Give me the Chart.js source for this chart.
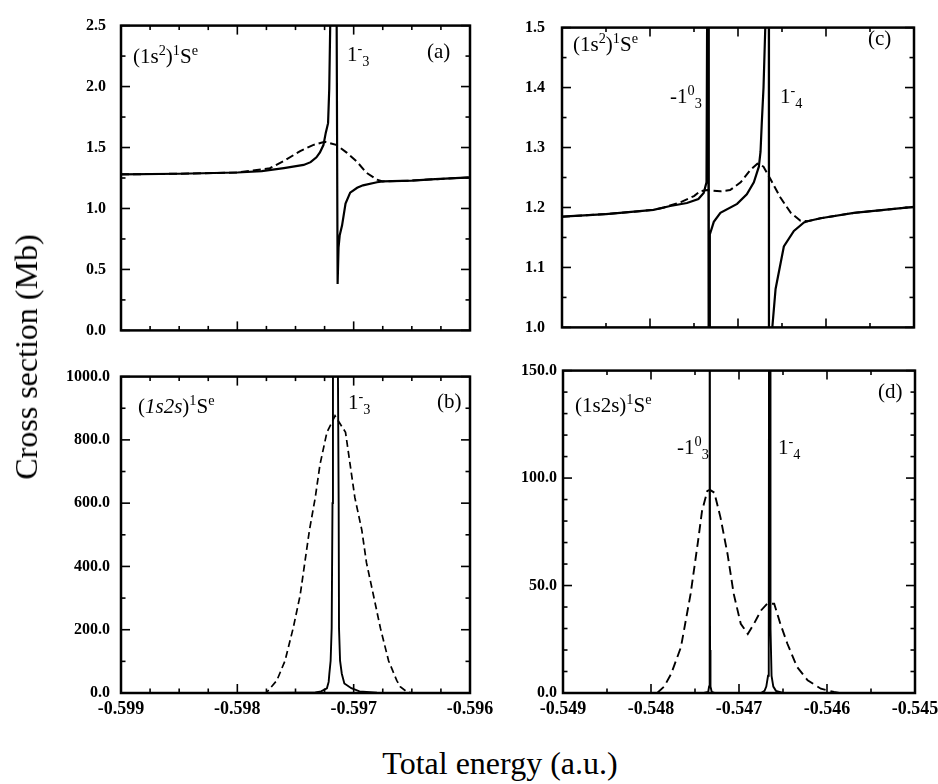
<!DOCTYPE html>
<html><head><meta charset="utf-8">
<script src="https://cdn.jsdelivr.net/npm/chart.js@4.4.0/dist/chart.umd.min.js"></script>
<style>
html,body{margin:0;padding:0;background:#fff;}
#wrap{position:relative;width:938px;height:784px;overflow:hidden;background:#fff;font-family:'Liberation Serif','Times New Roman',serif;color:#000;}
canvas{position:absolute;}
.lbl{position:absolute;font-family:'Liberation Serif','Times New Roman',serif;font-size:21px;line-height:1;white-space:nowrap;}
.sp{font-size:.68em;position:relative;top:-.55em;line-height:0;}
.sb{font-size:.68em;position:relative;top:.35em;line-height:0;}
.ttl{position:absolute;font-family:'Liberation Serif','Times New Roman',serif;font-size:32px;line-height:1;white-space:nowrap;}
</style></head><body><div id="wrap">
<canvas id="ca"></canvas><canvas id="cb"></canvas><canvas id="cc"></canvas><canvas id="cd"></canvas>
<div class="lbl" style="left:133px;top:46px">(1s<span class="sp">2</span>)<span class="sp">1</span>S<span class="sp">e</span></div>
<div class="lbl" style="left:347px;top:44px">1<span class="sp">-</span><span class="sb">3</span></div>
<div class="lbl" style="left:427px;top:41px">(a)</div>
<div class="lbl" style="left:138px;top:396px">(<i>1s2s</i>)<span class="sp">1</span>S<span class="sp">e</span></div>
<div class="lbl" style="left:348px;top:392px">1<span class="sp">-</span><span class="sb">3</span></div>
<div class="lbl" style="left:437px;top:391px">(b)</div>
<div class="lbl" style="left:573px;top:34px">(1s<span class="sp">2</span>)<span class="sp">1</span>S<span class="sp">e</span></div>
<div class="lbl" style="left:670px;top:86px">-1<span class="sp">0</span><span class="sb">3</span></div>
<div class="lbl" style="left:780px;top:86px">1<span class="sp">-</span><span class="sb">4</span></div>
<div class="lbl" style="left:868px;top:28px">(c)</div>
<div class="lbl" style="left:575px;top:395px">(1s2s)<span class="sp">1</span>S<span class="sp">e</span></div>
<div class="lbl" style="left:677px;top:437px">-1<span class="sp">0</span><span class="sb">3</span></div>
<div class="lbl" style="left:778px;top:437px">1<span class="sp">-</span><span class="sb">4</span></div>
<div class="lbl" style="left:878px;top:381px">(d)</div>
<div class="ttl" id="xt" style="top:747px;left:0;width:1000px;text-align:center">Total energy (a.u.)</div>
<div class="ttl" id="yt" style="left:26px;top:357px;transform:translate(-50%,-50%) rotate(-90deg);">Cross section (Mb)</div>
</div>
<script>
// ---- tick values ----
const abTicksX = [-0.599, -0.598, -0.597, -0.596];
const cdTicksX = [-0.549, -0.548, -0.547, -0.546, -0.545];
const aTicksY = [0.0, 0.5, 1.0, 1.5, 2.0, 2.5];
const bTicksY = [0, 200, 400, 600, 800, 1000];
const cTicksY = [1.0, 1.1, 1.2, 1.3, 1.4, 1.5];
const dTicksY = [0, 50, 100, 150];

// ---- panel (a): (1s^2) 1Se ----
const aSolidE = [-0.5990,-0.5985,-0.5980,-0.59779,-0.5976,-0.59743,-0.59737,-0.59732,-0.59729,-0.59726,-0.59724,-0.59722,-0.59721,-0.59720,-0.59718,-0.59715,-0.597138,-0.59713,-0.59712,-0.59710,-0.59707,-0.59703,-0.59697,-0.59692,-0.59680,-0.59675,-0.59650,-0.59630,-0.59600];
const aSolidY = [1.280,1.285,1.295,1.306,1.331,1.357,1.38,1.42,1.46,1.52,1.62,1.70,1.98,2.60,3.5,3.5,0.38,0.68,0.78,0.86,1.04,1.13,1.17,1.19,1.215,1.222,1.229,1.24,1.255];
const aDashE = [-0.5990,-0.5985,-0.5980,-0.59772,-0.59760,-0.59746,-0.59735,-0.59725,-0.59715,-0.59706,-0.59697,-0.59689,-0.59680,-0.59675,-0.59650,-0.59630,-0.59600];
const aDashY = [1.280,1.285,1.295,1.33,1.39,1.47,1.52,1.547,1.522,1.458,1.382,1.293,1.237,1.222,1.229,1.24,1.255];

// ---- panel (b): (1s2s) 1Se ----
const bSolidE = [-0.5990,-0.5978,-0.59745,-0.59733,-0.59728,-0.59723,-0.597215,-0.597209,-0.597198,-0.597189,-0.597182,-0.597178,-0.597157,-0.597135,-0.597129,-0.597126,-0.597117,-0.597102,-0.59708,-0.59702,-0.59695,-0.59680,-0.5965,-0.5960];
const bSolidY = [0,0,1,2,5,15,35,61,102,205,600,1000,3500,1000,600,205,102,61,30,15,5,1,0,0];
const bDashE = [-0.59778,-0.59775,-0.59766,-0.59759,-0.59752,-0.59746,-0.59742,-0.59738,-0.59733,-0.59729,-0.59723,-0.59716,-0.59707,-0.59703,-0.59699,-0.59693,-0.59689,-0.59683,-0.59677,-0.59670,-0.59663,-0.59660,-0.59654,-0.59649];
const bDashY = [0,1,40,102,205,309,412,515,618,721,824,876,824,721,618,515,412,309,205,102,40,20,3,0];

// ---- panel (c): (1s^2) 1Se ----
const cSolidE = [-0.5490,-0.5485,-0.54834,-0.54796,-0.54777,-0.54758,-0.54745,-0.54739,-0.547358,-0.54735,-0.54734,-0.547332,-0.547325,-0.54732,-0.547275,-0.54720,-0.54701,-0.54690,-0.54682,-0.546763,-0.546744,-0.54673,-0.54671,-0.546686,-0.54666,-0.54665,-0.546648,-0.54662,-0.54661,-0.546573,-0.546479,-0.546365,-0.54625,-0.54621,-0.546062,-0.545683,-0.5450];
const cSolidY = [1.1846,1.189,1.191,1.196,1.2025,1.2075,1.214,1.224,1.242,1.55,1.8,0.8,1.0,1.155,1.176,1.191,1.206,1.222,1.242,1.268,1.293,1.34,1.40,1.52,1.8,1.8,0.8,0.95,1.0,1.064,1.135,1.161,1.175,1.177,1.182,1.191,1.201];
const cDashE = [-0.5490,-0.5485,-0.54834,-0.54796,-0.54784,-0.54765,-0.54750,-0.54743,-0.54735,-0.54720,-0.54709,-0.54697,-0.54686,-0.54678,-0.54671,-0.54663,-0.54652,-0.54640,-0.54629,-0.54621,-0.546062,-0.545683,-0.5450];
const cDashY = [1.1846,1.189,1.191,1.196,1.200,1.209,1.219,1.227,1.229,1.227,1.229,1.242,1.2625,1.273,1.268,1.247,1.217,1.191,1.178,1.177,1.182,1.191,1.201];

// ---- panel (d): (1s2s) 1Se ----
const dSolidE = [-0.5490,-0.54740,-0.54735,-0.54734,-0.547335,-0.547332,-0.547329,-0.547324,-0.54731,-0.54728,-0.54675,-0.54671,-0.54669,-0.54667,-0.546662,-0.546656,-0.546652,-0.546647,-0.546642,-0.54663,-0.54661,-0.54658,-0.54650,-0.5450];
const dSolidY = [0,0,0.5,3,20,400,20,3,0.5,0,0,1,3,8,30,300,600,300,30,8,3,1,0,0];
const dDashE = [-0.54793,-0.54785,-0.54777,-0.54766,-0.54755,-0.54747,-0.54742,-0.54736,-0.54733,-0.54728,-0.54721,-0.54713,-0.54706,-0.54698,-0.54690,-0.54683,-0.54675,-0.54668,-0.54660,-0.54653,-0.54645,-0.54634,-0.54622,-0.54607,-0.54592,-0.54585];
const dDashY = [0,3,9,21.3,46.1,69.3,84.7,94.0,94.5,93.2,81.6,64.6,46.1,32.2,27.5,32.2,38.4,41.5,41.5,32.2,22.9,12.1,5.9,2.0,0.5,0];

function pts(E, Y) { return E.map((e, i) => ({ x: e, y: Y[i] })); }

const FONT = "'Liberation Serif','Times New Roman',serif";

const framePlugin = {
  id: 'frame',
  afterDatasetsDraw(chart, args, opts) {
    const { ctx, chartArea: a, scales: { x, y } } = chart;
    ctx.save();
    ctx.strokeStyle = '#000';
    ctx.lineCap = 'butt';
    ctx.lineWidth = 1.6;
    const seg = (x1, y1, x2, y2) => { ctx.beginPath(); ctx.moveTo(x1, y1); ctx.lineTo(x2, y2); ctx.stroke(); };
    const MAJ = 9, MIN = 4.5;
    const xt = x.ticks.map(t => t.value);
    for (let i = 0; i < xt.length; i++) {
      const p = x.getPixelForValue(xt[i]);
      seg(p, a.bottom, p, a.bottom - MAJ); seg(p, a.top, p, a.top + MAJ);
      if (i < xt.length - 1) {
        for (let k = 1; k < opts.xMinor; k++) {
          const q = x.getPixelForValue(xt[i] + (xt[i + 1] - xt[i]) * k / opts.xMinor);
          seg(q, a.bottom, q, a.bottom - MIN); seg(q, a.top, q, a.top + MIN);
        }
      }
    }
    const yt = y.ticks.map(t => t.value);
    for (let i = 0; i < yt.length; i++) {
      const p = y.getPixelForValue(yt[i]);
      seg(a.left, p, a.left + MAJ, p); seg(a.right, p, a.right - MAJ, p);
      if (i < yt.length - 1) {
        for (let k = 1; k < opts.yMinor; k++) {
          const q = y.getPixelForValue(yt[i] + (yt[i + 1] - yt[i]) * k / opts.yMinor);
          seg(a.left, q, a.left + MIN, q); seg(a.right, q, a.right - MIN, q);
        }
      }
    }
    ctx.lineWidth = 2.5;
    ctx.strokeRect(a.left, a.top, a.right - a.left, a.bottom - a.top);
    ctx.restore();
  }
};

function panel(id, area, cfg) {
  const Wy = cfg.wy, padT = 14, padR = 34, Hx = cfg.hx;
  const cv = document.getElementById(id);
  const W = (area.r - area.l) + Wy + padR, H = (area.b - area.t) + padT + Hx;
  cv.width = W; cv.height = H;
  cv.style.left = (area.l - Wy) + 'px'; cv.style.top = (area.t - padT) + 'px';
  cv.style.width = W + 'px'; cv.style.height = H + 'px';
  new Chart(cv, {
    type: 'scatter',
    data: { datasets: [
      { data: cfg.solid, showLine: true, borderColor: '#000', borderWidth: cfg.sw, pointRadius: 0, tension: 0, clip: 0 },
      { data: cfg.dash, showLine: true, borderColor: '#000', borderWidth: cfg.dw, borderDash: cfg.dashPat, pointRadius: 0, tension: 0, clip: 0 }
    ] },
    options: {
      responsive: false, animation: false, devicePixelRatio: 1, events: [],
      layout: { padding: { left: 0, top: padT, right: padR, bottom: 0 } },
      plugins: { legend: { display: false }, tooltip: { enabled: false }, frame: { xMinor: cfg.xMinor, yMinor: cfg.yMinor } },
      scales: {
        x: {
          type: 'linear', min: cfg.xt[0], max: cfg.xt[cfg.xt.length - 1],
          grid: { display: false, drawTicks: false, tickLength: 0 }, border: { display: false },
          afterBuildTicks: s => { s.ticks = cfg.xt.map(v => ({ value: v })); },
          afterFit: s => { s.height = Hx; },
          ticks: { display: cfg.xLabels, autoSkip: false, maxRotation: 0, color: '#000', padding: 6,
                   font: { family: FONT, size: 18, weight: 'bold' }, callback: v => Number(v).toFixed(3) }
        },
        y: {
          type: 'linear', min: cfg.yt[0], max: cfg.yt[cfg.yt.length - 1],
          grid: { display: false, drawTicks: false, tickLength: 0 }, border: { display: false },
          afterBuildTicks: s => { s.ticks = cfg.yt.map(v => ({ value: v })); },
          afterFit: s => { s.width = Wy; },
          ticks: { autoSkip: false, color: '#000', padding: cfg.ypad,
                   font: { family: FONT, size: 16, weight: 'bold' }, callback: v => Number(v).toFixed(1) }
        }
      }
    },
    plugins: [framePlugin]
  });
}

panel('ca', { l: 121, t: 15, r: 470, b: 343 }, { wy: 100, hx: 12, xt: abTicksX, yt: aTicksY, xLabels: false, ypad: 15,
  xMinor: 4, yMinor: 2, solid: pts(aSolidE, aSolidY), dash: pts(aDashE, aDashY), sw: 2.2, dw: 2, dashPat: [8, 4] });
panel('cb', { l: 121, t: 370, r: 470, b: 693 }, { wy: 100, hx: 40, xt: abTicksX, yt: bTicksY, xLabels: true, ypad: 11,
  xMinor: 4, yMinor: 2, solid: pts(bSolidE, bSolidY), dash: pts(bDashE, bDashY), sw: 1.9, dw: 1.7, dashPat: [7, 4] });
panel('cc', { l: 562, t: 15, r: 914, b: 342 }, { wy: 60, hx: 12, xt: cdTicksX, yt: cTicksY, xLabels: false, ypad: 17,
  xMinor: 2, yMinor: 2, solid: pts(cSolidE, cSolidY), dash: pts(cDashE, cDashY), sw: 2.2, dw: 2, dashPat: [8, 4] });
panel('cd', { l: 563, t: 369, r: 915, b: 693 }, { wy: 60, hx: 40, xt: cdTicksX, yt: dTicksY, xLabels: true, ypad: 6,
  xMinor: 2, yMinor: 5, solid: pts(dSolidE, dSolidY), dash: pts(dDashE, dDashY), sw: 1.9, dw: 1.9, dashPat: [9, 5] });
</script>
</body></html>
